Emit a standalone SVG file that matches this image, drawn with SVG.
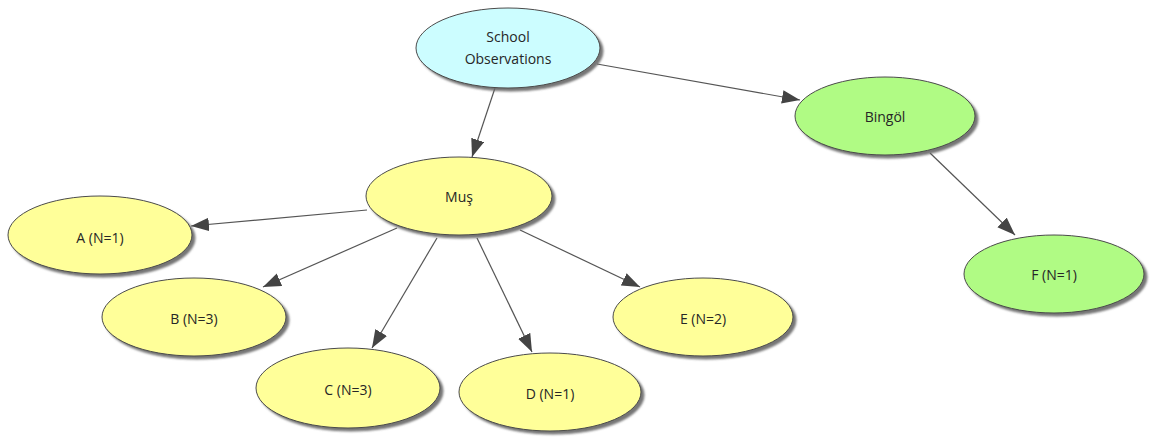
<svg xmlns="http://www.w3.org/2000/svg" width="1150" height="439" viewBox="0 0 1150 439">
  <style>
    .node ellipse { stroke: #4a4a4a; stroke-width: 1; filter: url(#shadow); }
    .root { fill: #ccfdff; }
    .mus { fill: #ffff99; }
    .bingol { fill: #b0fb84; }
    .label { font-family: "Open Sans", "DejaVu Sans", sans-serif; font-size: 14px; fill: #262626; text-anchor: middle; dominant-baseline: central; }
    .edge { stroke: #555; stroke-width: 1.2; fill: none; marker-end: url(#arrow); }
  </style>
  <defs>
    <filter id="shadow" x="-10%" y="-10%" width="125%" height="130%">
      <feDropShadow dx="3" dy="3" stdDeviation="1.2" flood-color="#666" flood-opacity="0.9"/>
    </filter>
    <marker id="arrow" markerUnits="userSpaceOnUse" markerWidth="18" markerHeight="14" viewBox="0 0 16 12" refX="16" refY="6" orient="auto">
      <path d="M0,0 L16,6 L0,12 Z" fill="#444"/>
    </marker>
  </defs>

  <g id="connectors">
    <line class="edge" x1="495" y1="88" x2="472" y2="157"/>
    <line class="edge" x1="597" y1="64" x2="800" y2="100"/>
    <line class="edge" x1="367" y1="210" x2="191" y2="226"/>
    <line class="edge" x1="397" y1="228" x2="263" y2="287"/>
    <line class="edge" x1="437" y1="238" x2="372" y2="348"/>
    <line class="edge" x1="477" y1="238" x2="532" y2="352"/>
    <line class="edge" x1="520" y1="230" x2="640" y2="287"/>
    <line class="edge" x1="930" y1="153" x2="1015" y2="235"/>
  </g>

  <g id="school-observations" class="node">
    <ellipse class="root" cx="508" cy="48" rx="92" ry="40"/>
    <text class="label" x="508" y="36">School</text>
    <text class="label" x="508" y="58">Observations</text>
  </g>
  <g id="mus" class="node">
    <ellipse class="mus" cx="459" cy="196" rx="93" ry="39"/>
    <text class="label" x="459" y="196">Muş</text>
  </g>
  <g id="bingol" class="node">
    <ellipse class="bingol" cx="885" cy="116" rx="90" ry="39"/>
    <text class="label" x="885" y="116">Bingöl</text>
  </g>
  <g id="node-a" class="node">
    <ellipse class="mus" cx="100" cy="235" rx="92" ry="39"/>
    <text class="label" x="100" y="237">A (N=1)</text>
  </g>
  <g id="node-b" class="node">
    <ellipse class="mus" cx="194" cy="317" rx="92" ry="39"/>
    <text class="label" x="194" y="318">B (N=3)</text>
  </g>
  <g id="node-c" class="node">
    <ellipse class="mus" cx="348" cy="388" rx="92" ry="40"/>
    <text class="label" x="348" y="389">C (N=3)</text>
  </g>
  <g id="node-d" class="node">
    <ellipse class="mus" cx="550" cy="392" rx="91" ry="39"/>
    <text class="label" x="550" y="393">D (N=1)</text>
  </g>
  <g id="node-e" class="node">
    <ellipse class="mus" cx="703" cy="317" rx="90" ry="39"/>
    <text class="label" x="703" y="318">E (N=2)</text>
  </g>
  <g id="node-f" class="node">
    <ellipse class="bingol" cx="1054" cy="274" rx="90" ry="39"/>
    <text class="label" x="1054" y="274">F (N=1)</text>
  </g>
</svg>
